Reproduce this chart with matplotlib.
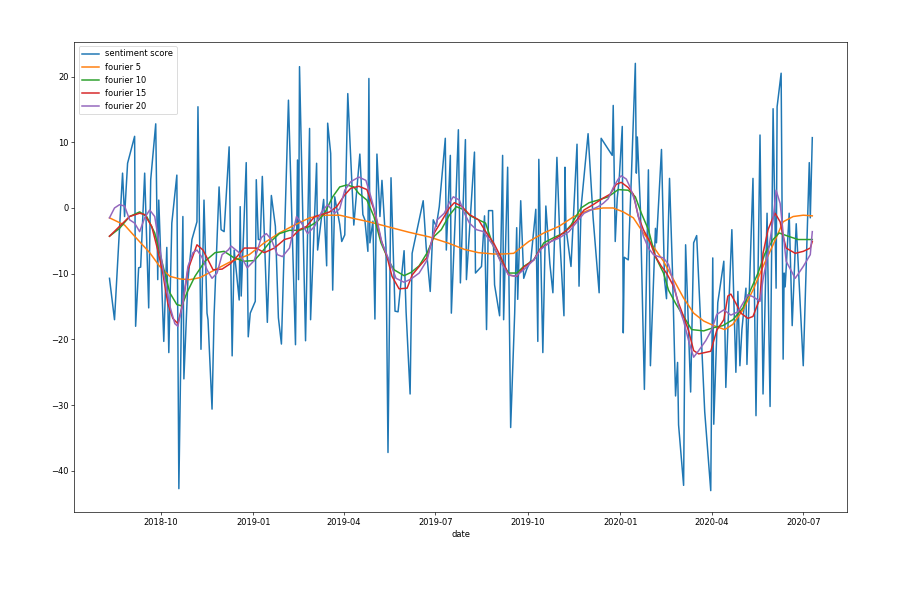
import matplotlib
matplotlib.use("Agg")
import matplotlib.pyplot as plt
import matplotlib.dates as mdates
import pandas as pd

START = pd.Timestamp("2018-08-01")

# sentiment score: day offset from START, value
score_days = [10, 15, 23, 25, 28, 35, 36, 39, 41, 45, 49, 51, 56, 58, 59, 64, 67, 69, 72, 77,
              79, 83, 84, 88, 92, 97, 98, 101, 104, 107, 108, 112, 114, 119, 121, 124, 129, 132, 134, 139,
              140, 141, 146, 148, 150, 155, 156, 158, 160, 162, 167, 171, 175, 178, 181, 188, 195, 197, 198, 199,
              205, 209, 210, 216, 217, 223, 226, 227, 230, 232, 234, 239, 241, 244, 247, 253, 259, 262, 264, 267,
              268, 269, 272, 274, 276, 279, 281, 285, 287, 290, 294, 297, 303, 305, 309, 311, 322, 325, 329, 332,
              335, 338, 344, 345, 349, 350, 354, 357, 359, 364, 365, 373, 374, 380, 383, 385, 387, 391, 393, 398,
              401, 402, 406, 409, 413, 415, 416, 419, 422, 425, 429, 434, 436, 437, 441, 444, 448, 451, 455, 458,
              462, 463, 464, 469, 475, 477, 479, 486, 491, 497, 499, 510, 511, 513, 515, 517, 520, 521, 522, 526,
              529, 533, 534, 535, 538, 542, 546, 548, 553, 554, 559, 562, 564, 567, 570, 573, 575, 576, 581, 583,
              588, 591, 594, 599, 602, 608, 610, 611, 615, 621, 623, 625, 629, 633, 635, 637, 639, 643, 644, 650,
              653, 657, 660, 664, 667, 670, 673, 674, 678, 680, 681, 682, 686, 689, 693, 700, 706, 707, 709]
score_vals = [-10.7, -17, 5.3, -1.3, 6.8, 10.9, -18, -9.1, -9, 5.3, -15.2, 4.3, 12.8, -10.9, 1.2, -20.3, -6, -22, -2.3, 5,
              -42.7, -1.3, -26, -11, -4.8, -2.1, 15.4, -21.5, 1.2, -16, -17, -30.6, -16.5, 3.2, -3.3, -3.6, 9.3, -22.5, -6.4, -14,
              0.2, -13.4, 6.9, -19.6, -16, -14.2, 4.3, -4.8, -4.8, 4.8, -17.4, 1.9, -2.8, -16.7, -20.7, 16.4, -20.8, 7.3, -10.9, 21.5,
              -20.2, 12.1, -17, 6.8, -6.4, 1.3, -8.8, 12.9, 8.3, -12.5, 1.7, -2.5, -5.1, -4.1, 17.4, -2.6, 8.2, -1, -1.8, -6.6,
              19.7, -5.3, -2, -16.9, 8.2, -1.3, 4.2, -6, -37.2, 4.6, -15.7, -15.8, -6.5, -15.8, -28.3, -6.9, 1.1, -6, -12.7, -1.8,
              -2.8, 0.2, 10.6, -6.4, 8, -16, -1, 11.9, -11.4, 10.4, -10.9, 8.5, -9.9, -8.9, -1.2, -18.5, -0.4, -0.4, -11.7, -16.4,
              8, -17, 6.2, -33.4, -16, -3, -13.9, 1.1, -10.7, -9.3, -8, -0.2, -20.3, 7.4, -22, 0.3, -8.5, -12.9, 7.7, -5,
              -16.4, 6.2, -3, -8.9, 9.7, -11.9, 0, 11.3, -1.5, -12.9, 10.6, 8, 15.6, -5.1, 1.5, 4.5, 12.4, -19, -7.5, -7.9,
              4.5, 22, 5.3, 10.8, 0, -27.6, 5.8, -24, -3.1, -5.3, 8.9, -10.9, -13.8, 4.5, -10, -28.6, -23.5, -33, -42.2, -5.6,
              -28, -5.3, -4.2, -21, -31, -43, -7.6, -32.9, -14.4, -8.1, -27.3, -18.5, -3.3, -25, -12.7, -24, -18.5, -12.2, -23.8, 4.5,
              -31.6, 11.1, -28.3, -0.8, -30.2, 15.1, -12.2, 15.4, 20.5, -23, -9.9, -12, -0.8, -17.9, -2.4, -24, 6.9, -1.5, 10.7]

f5_days = [10, 25, 35, 50, 60, 70, 80, 90, 100, 115, 130, 149, 164, 179, 194, 209, 224, 239, 253, 268,
           288, 308, 328, 348, 363, 377, 392, 402, 412, 427, 442, 457, 472, 487, 501, 511, 521, 531, 541, 551,
           561, 571, 581, 591, 601, 611, 622, 630, 640, 650, 660, 670, 680, 690, 700, 709]
f5_vals = [-1.5, -2.6, -4.3, -6.8, -8.9, -10.4, -10.8, -10.9, -10.6, -9.4, -8.2, -7.1, -5.3, -3.8, -2.6, -1.5, -1.1, -1.1, -1.6, -2.1,
           -2.9, -3.7, -4.4, -5.4, -6.3, -6.8, -7.0, -7.0, -6.9, -5.1, -3.8, -2.8, -1.3, -0.3, 0, 0, -0.6, -1.5, -3.8, -5.9,
           -8.1, -10.9, -13.7, -16, -17.2, -17.9, -18.5, -17.7, -15.5, -12.5, -8.9, -5.6, -2.1, -1.3, -1.1, -1.2]

f10_days = [10, 20, 30, 40, 47, 55, 60, 65, 70, 77, 82, 87, 95, 105, 115, 124, 134, 144, 154, 161,
            169, 179, 189, 199, 209, 217, 224, 232, 239, 246, 253, 258, 266, 273, 280, 288, 293, 303, 310, 318,
            326, 333, 340, 348, 355, 363, 369, 377, 384, 392, 399, 407, 415, 422, 432, 442, 452, 462, 469, 479,
            487, 496, 506, 516, 526, 533, 539, 546, 553, 561, 566, 573, 581, 589, 601, 611, 620, 630, 640, 647,
            655, 662, 670, 676, 685, 695, 709]
f10_vals = [-4.3, -3.1, -1.3, -0.6, -1.3, -3.8, -6.8, -9.9, -12.9, -14.7, -14.9, -12.9, -10.4, -8.1, -6.8, -6.6, -7.6, -8.1, -8.0, -6.8,
            -5.3, -3.9, -3.4, -3.4, -2.8, -2.0, -0.8, 1.7, 3.2, 3.5, 3.2, 2.2, 1.2, -1.3, -5.3, -8.1, -9.4, -10.3, -9.8, -8.8,
            -6.8, -4.3, -3.3, -1.1, 0.2, -0.3, -1.2, -1.8, -2.3, -5.9, -8.0, -9.9, -9.9, -8.9, -7.9, -5.3, -4.5, -3.8, -2.6, 0,
            0.8, 1.2, 1.7, 2.8, 2.7, 1.7, -0.8, -3.3, -7.4, -9.9, -12.5, -14.5, -16.5, -18.5, -18.7, -18.2, -17.9, -17, -15.2, -12.7,
            -9.9, -6.9, -4.8, -3.8, -4.3, -4.8, -4.8]

f15_days = [10, 20, 30, 40, 45, 52, 58, 63, 68, 73, 78, 83, 88, 97, 103, 113, 122, 130, 134, 144,
            156, 164, 174, 184, 191, 199, 206, 214, 221, 229, 236, 244, 250, 258, 266, 273, 280, 286, 291, 298,
            306, 311, 318, 326, 333, 341, 348, 353, 360, 368, 377, 385, 392, 399, 407, 415, 422, 432, 439, 447,
            457, 467, 475, 482, 491, 501, 508, 514, 519, 526, 531, 536, 541, 548, 553, 559, 564, 571, 576, 581,
            586, 591, 596, 608, 614, 621, 625, 628, 633, 638, 645, 650, 657, 660, 665, 669, 672, 677, 680, 683,
            692, 700, 707, 709]
f15_vals = [-4.3, -2.8, -1.3, -0.8, -1.0, -2.8, -6.4, -9.9, -14.5, -16.8, -17.6, -14.5, -9.4, -5.6, -6.4, -9.4, -9.3, -8.5, -7.9, -6.1,
            -6.1, -6.8, -6.1, -4.8, -4.5, -3.3, -2.8, -1.3, -1.0, -0.6, 0.2, 2.0, 3.0, 3.3, 2.8, -0.2, -4.8, -7.4, -10.4, -12.3,
            -12.2, -10.2, -8.9, -7.5, -3.8, -1.8, 0, 0.8, 0.3, -1.0, -1.8, -3.8, -5.3, -7.4, -10.2, -10.4, -9.0, -7.9, -6.1, -5.3,
            -4.3, -3.1, -1.8, -0.3, 0.5, 1.5, 2.1, 3.6, 3.9, 3.1, 2.1, -1.3, -3.3, -5.3, -7.4, -8.9, -9.9, -11.9, -14.5, -16.5,
            -18.7, -21.7, -22.2, -21.8, -18.6, -17, -13.4, -13.1, -14.5, -16, -16.8, -16.5, -13.7, -6.9, -3.3, -1.8, -0.8, -2.1, -4.3, -6.1,
            -6.9, -6.6, -6.1, -5.1]

f20_days = [10, 15, 20, 25, 30, 35, 40, 45, 50, 55, 60, 65, 70, 75, 78, 83, 88, 93, 97, 102,
            107, 112, 117, 122, 128, 131, 139, 147, 154, 161, 166, 171, 177, 182, 189, 196, 201, 207, 214, 221,
            227, 234, 239, 244, 250, 258, 265, 270, 276, 281, 288, 295, 303, 310, 318, 326, 331, 336, 343, 348,
            352, 358, 363, 368, 375, 382, 392, 399, 407, 414, 422, 432, 439, 449, 457, 467, 475, 482, 489, 496,
            501, 506, 511, 516, 519, 524, 528, 533, 536, 541, 546, 551, 556, 561, 566, 571, 576, 581, 586, 591,
            596, 603, 609, 614, 621, 628, 635, 640, 645, 650, 657, 660, 665, 670, 673, 677, 680, 683, 692, 700,
            707, 709]
f20_vals = [-1.5, 0, 0.5, 0.3, -1.8, -2.3, -3.6, -1.5, -0.3, -1.3, -6.1, -10.9, -14.9, -17.6, -18.0, -14.5, -8.9, -6.8, -6.4, -7.5,
            -9.4, -10.7, -9.9, -7.1, -6.4, -5.8, -6.8, -9.1, -8.0, -4.5, -3.9, -4.8, -7.1, -7.4, -6.1, -1.3, -2.3, -3.9, -2.8, -0.6,
            0.5, -0.8, -0.1, 2.7, 4.0, 4.7, 4.2, 1.7, -1.8, -5.3, -7.9, -10.7, -11.3, -10.8, -9.9, -7.9, -4.6, -1.8, -0.8, 0.8,
            1.7, 1.2, -0.8, -2.3, -3.3, -3.6, -5.8, -8.2, -10.2, -10.4, -9.4, -7.9, -6.3, -5.1, -4.6, -3.6, -2.1, -0.8, -0.3, 0.2,
            0.7, 1.4, 3.1, 4.4, 4.9, 4.4, 3.1, 0.8, -1.3, -4.3, -6.1, -7.1, -7.4, -7.6, -8.6, -11.4, -14.9, -17.2, -20.2, -22.7,
            -21.7, -20.2, -18.5, -16.2, -15.5, -16.3, -15.8, -14.5, -13.2, -13.5, -14.2, -10.9, -6.9, -1.8, 2.7, 0.7, -3.8, -8.1, -10.7, -8.9,
            -7.1, -3.6]


def to_dates(days):
    return START + pd.to_timedelta(days, unit="D")


plt.rcParams["lines.linewidth"] = 1.8

fig = plt.figure(figsize=(15, 10), dpi=60)
ax = fig.add_axes([0.0826, 0.1467, 0.859, 0.7833])

ax.plot(to_dates(score_days), score_vals, label="sentiment score")
ax.plot(to_dates(f5_days), f5_vals, label="fourier 5")
ax.plot(to_dates(f10_days), f10_vals, label="fourier 10")
ax.plot(to_dates(f15_days), f15_vals, label="fourier 15")
ax.plot(to_dates(f20_days), f20_vals, label="fourier 20")

ax.xaxis.set_major_locator(mdates.MonthLocator(bymonth=[1, 4, 7, 10]))
ax.xaxis.set_major_formatter(mdates.DateFormatter("%Y-%m"))
ax.set_xlabel("date")
ax.legend(loc="upper left")

fig.savefig("out.png", dpi=60)
